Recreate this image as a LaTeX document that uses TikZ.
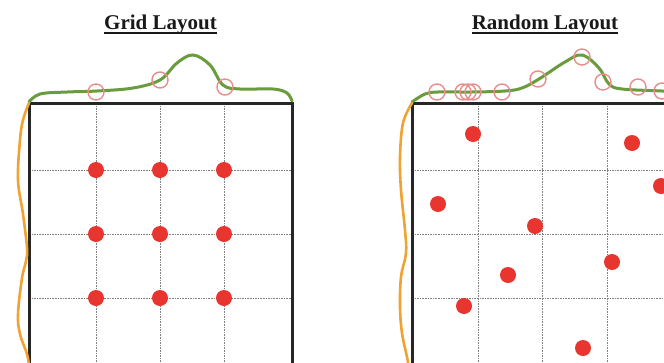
\documentclass[tikz,border=0pt]{standalone}
\usepackage{fontspec}
\setmainfont{Liberation Serif}
\begin{document}
\begin{tikzpicture}[x=1pt,y=-1pt,
  frame/.style={line width=3pt,draw=black!85},
  gridline/.style={draw=gray,line width=1pt,dash pattern=on 1.6pt off 1pt},
  dot/.style={circle,fill=dotred,inner sep=0pt,minimum size=16pt},
  ring/.style={circle,draw=ringpink,line width=1.4pt,inner sep=0pt,minimum size=16pt},
  density/.style={draw=kdegreen,line width=3pt,line cap=round},
  margin/.style={draw=margorange,line width=2.6pt,line cap=round},
  title/.style={font=\fontsize{21}{25}\selectfont\bfseries,inner sep=0pt,anchor=base,text=black!90},
  uline/.style={line width=1.6pt,draw=black!90}]
\definecolor{dotred}{HTML}{E8352F}
\definecolor{ringpink}{HTML}{E88C8C}
\definecolor{kdegreen}{HTML}{6A9B3C}
\definecolor{margorange}{HTML}{F0A232}
\clip (0,0) rectangle (664,362);
\fill[white] (0,0) rectangle (664,362);

% ---------- titles ----------
\node[title] (gtitle) at (160.5,29) {Grid Layout};
\draw[uline] ([yshift=-4pt]gtitle.base west) -- ([yshift=-4pt]gtitle.base east);
\node[title] (rtitle) at (545,29) {Random Layout};
\draw[uline] ([yshift=-4pt]rtitle.base west) -- ([yshift=-4pt]rtitle.base east);

% ---------- grid panel ----------
\foreach \gx in {96,160,224} \draw[gridline] (\gx,103) -- (\gx,370);
\foreach \gy in {170,234,298} \draw[gridline] (29,\gy) -- (292,\gy);
\draw[frame] (29,380) -- (29,103) -- (292,103) -- (292,380);
\foreach \gx [count=\i] in {96,160,224}
  \foreach \gy [count=\j] in {170,234,298}
    \node[dot] (g\i\j) at (\gx,\gy) {};
\draw[density] plot[smooth,tension=0.6] coordinates {
  (29,102) (40,94) (67,92) (97,91) (133,88) (160,80) (177,63) (193,55)
  (210,65) (223,85) (240,89) (273,89) (287,93) (292,101)};
\draw[margin] plot[smooth,tension=0.6] coordinates {
  (29,103) (23,120) (20,140) (18,180) (23,214) (27,248) (26,261)
  (22,278) (18,314) (20,334) (27,354) (29,366)};
\node[ring] (gr1) at (96,92) {};
\node[ring] (gr2) at (160,80) {};
\node[ring] (gr3) at (225,87) {};

% ---------- random panel ----------
\foreach \gx in {478,542,607} \draw[gridline] (\gx,103) -- (\gx,370);
\foreach \gy in {170,234,298} \draw[gridline] (412,\gy) -- (680,\gy);
\draw[frame] (412,380) -- (412,103) -- (680,103);
\foreach \px/\py [count=\k] in {473/134,632/143,661/186,438/204,535/226,612/262,508/275,464/306,583/348}
  \node[dot] (r\k) at (\px,\py) {};
\draw[density] plot[smooth,tension=0.6] coordinates {
  (412,102) (425,94) (438,92) (472,92) (505,91) (522,88) (539,79) (565,62)
  (582,55) (599,68) (609,84) (622,89) (662,91) (672,92)};
\draw[margin] plot[smooth,tension=0.6] coordinates {
  (412,103) (403,123) (400,157) (401,190) (405,230) (406,253) (401,277)
  (400,307) (402,333) (407,357) (409,368)};
\foreach \cx/\cy [count=\k] in {437/92,463/92,468/92,473/92,502/92,538/79,582/57,603/82,638/87,662/91}
  \node[ring] (rr\k) at (\cx,\cy) {};
\end{tikzpicture}
\end{document}
